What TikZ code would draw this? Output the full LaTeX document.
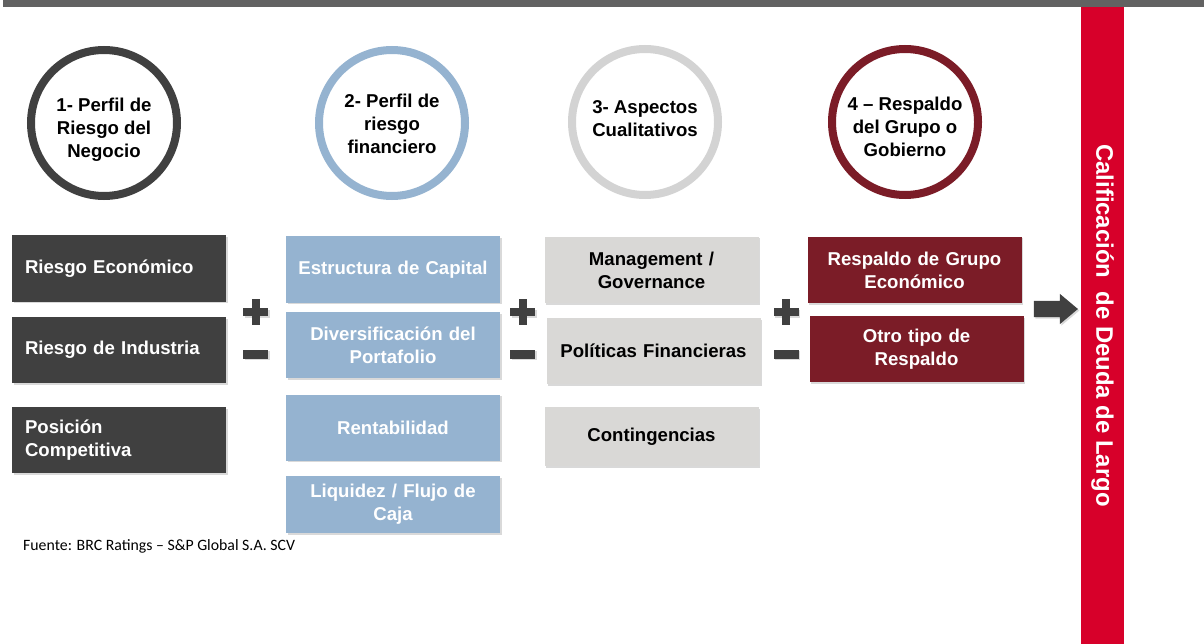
\documentclass[tikz,border=0pt]{standalone}
\usepackage{fontspec}
\setmainfont{Liberation Sans}
\newfontfamily\footfont[Ligatures=TeX]{Carlito}
\usetikzlibrary{shapes.arrows,shadows}

\definecolor{topgray}{HTML}{626262}
\definecolor{boxdark}{HTML}{404040}
\definecolor{boxblue}{HTML}{95B3D0}
\definecolor{boxlight}{HTML}{D9D8D6}
\definecolor{ringlight}{HTML}{D3D3D3}
\definecolor{boxwine}{HTML}{7B1C27}
\definecolor{barred}{HTML}{D7002A}

\begin{document}
\begin{tikzpicture}[x=1pt, y=-1pt,
    every node/.style={font=\fontsize{18.6}{23}\selectfont\bfseries},
    softshadow/.style={drop shadow={shadow xshift=1.5pt, shadow yshift=-1.5pt, opacity=0.3}},
    ring/.style={circle, draw=#1, line width=8pt, fill=white, minimum size=146pt, inner sep=0pt, softshadow},
    ringtext/.style={align=center, inner sep=0pt},
    factor/.style={fill=#1, minimum width=214pt, minimum height=66pt, inner sep=0pt, text width=200pt, align=center, softshadow},
    darkfactor/.style={factor=boxdark, text=white, text width=188pt, align=left},
    bluefactor/.style={factor=boxblue, text=white},
    greyfactor/.style={factor=boxlight, text=black},
    winefactor/.style={factor=boxwine, text=white}]
    \useasboundingbox (0,0) rectangle (1204,644);
    \fill [topgray] (3,0) rectangle (1204,7);

    % the four blocks of the rating
    \node [ring=boxdark] (business) at (104,123) {};
    \node [ring=boxblue] (financial) at (392,123) {};
    \node [ring=ringlight] (qualitative) at (645,122) {};
    \node [ring=boxwine] (support) at (905,122) {};
    \node [ringtext, yshift=-7pt] (businesstext) at (business) {1- Perfil de\\Riesgo del\\Negocio};
    \node [ringtext, yshift=-1pt] (financialtext) at (financial) {2- Perfil de\\riesgo\\financiero};
    \node [ringtext, yshift=3pt] (qualitativetext) at (qualitative) {3- Aspectos\\Cualitativos};
    \node [ringtext, yshift=-5pt] (supporttext) at (support) {4 -- Respaldo\\del Grupo o\\Gobierno};

    \node [darkfactor] (economic) at (119,268.5) {Riesgo Económico};
    \node [darkfactor] (industry) at (119,350) {Riesgo de Industria};
    \node [darkfactor] (position) at (119,440) {Posición\\Competitiva};

    \node [bluefactor] (capital) at (393,269.5) {Estructura de Capital};
    \node [bluefactor] (portfolio) at (393,345) {Diversificación del\\Portafolio};
    \node [bluefactor] (profit) at (393,427.5) {Rentabilidad};
    \node [bluefactor, minimum height=57pt] (liquidity) at (393,504.5) {Liquidez / Flujo de\\Caja};

    \node [greyfactor] (governance) at (651.5,270) {Management /\\Governance};
    \node [greyfactor] (policies) at (653.5,351) {Políticas Financieras};
    \node [greyfactor, minimum height=59pt] (contingency) at (651.5,436.5) {Contingencias};

    \node [winefactor] (groupback) at (914.5,270) {Respaldo de Grupo\\Económico};
    \node [winefactor] (otherback) at (916.5,349) {Otro tipo de\\Respaldo};

    % plus / minus between the columns
    \foreach \sx in {255.5,522.5,786} {
        \fill [boxdark, softshadow] (\sx-12.5,308) rectangle (\sx+12.5,316);
        \fill [boxdark] (\sx-4,299) rectangle (\sx+4,325);
        \fill [boxdark, softshadow] (\sx-12.5,349.5) rectangle (\sx+12.5,358.5);
    }

    \node [fill=barred, rotate=-90, minimum width=637pt, minimum height=43pt, inner sep=0pt, text=white, font=\fontsize{23.9}{28}\selectfont\bfseries] (rating) at (1102.5,325.5) {Calificación~ de Deuda de Largo};
    \node [single arrow, fill=boxdark, minimum height=44pt, inner xsep=0pt, inner ysep=8pt, single arrow head extend=7pt, single arrow tip angle=80, softshadow] (torating) at (1051,309) {};

    \node [anchor=west, inner sep=0pt, font=\footfont\fontsize{15.8}{19}\selectfont] (source) at (23,546) {Fuente: BRC Ratings – S\&P Global S.A. SCV};
\end{tikzpicture}
\end{document}
